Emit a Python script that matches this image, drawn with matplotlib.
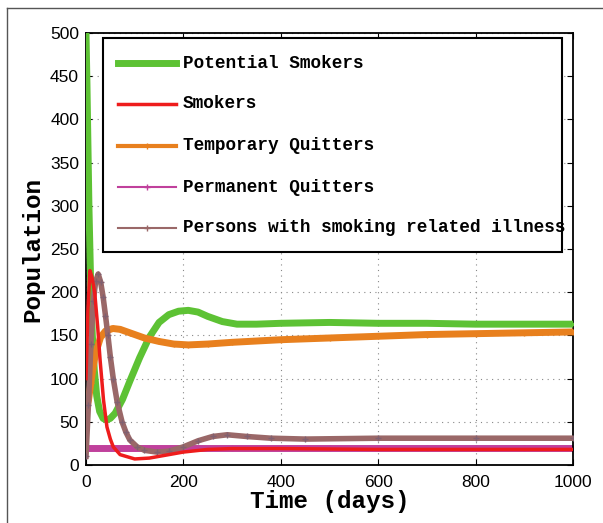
import matplotlib
matplotlib.use('Agg')
import matplotlib.pyplot as plt
from matplotlib.lines import Line2D
from matplotlib.patches import Rectangle

# time points (days) and population of each compartment
t_ps = [0, 2, 4, 6, 8, 10, 13, 17, 22, 28, 35, 42, 50, 60, 75, 90, 110, 130, 150, 170,
        190, 210, 230, 250, 280, 310, 350, 400, 500, 600, 700, 800, 900, 1000]
potential_smokers = [500, 440, 370, 300, 250, 200, 150, 110, 80, 62, 54, 52, 54, 60, 76, 97,
                     124, 148, 165, 174, 178, 179, 177, 172, 166, 163, 163, 164, 165, 164,
                     164, 163, 163, 163]

t_s = [0, 4, 8, 12, 18, 24, 29, 36, 43, 50, 56, 70, 100, 130, 160, 200, 250, 300, 400,
       600, 1000]
smokers = [100, 180, 225, 218, 199, 160, 121, 75, 44, 30, 21, 12, 7, 8, 11, 15, 18, 19, 19,
           18, 18]

t_tq = [0, 5, 10, 15, 20, 30, 40, 55, 70, 90, 120, 150, 180, 210, 250, 300, 400, 500, 600,
        700, 800, 900, 1000]
temporary_quitters = [60, 75, 95, 115, 130, 148, 155, 158, 157, 153, 147, 143, 140, 139, 140,
                      142, 145, 147, 149, 151, 152, 153, 154]

t_pq = [0, 100, 200, 300, 400, 500, 600, 700, 800, 900, 1000]
permanent_quitters = [20, 20, 20, 20, 20, 20, 20, 20, 20, 20, 20]

t_ill = [0, 5, 10, 15, 20, 25, 30, 35, 40, 45, 50, 56, 64, 74, 82, 90, 105, 120, 145, 170,
         200, 230, 260, 290, 330, 380, 450, 600, 800, 1000]
illness = [10, 70, 140, 190, 213, 221, 212, 195, 173, 150, 125, 100, 73, 50, 38, 29, 21, 17,
           15, 16, 21, 28, 33, 35, 33, 31, 30, 31, 31, 31]

labels = ['Potential Smokers', 'Smokers', 'Temporary Quitters', 'Permanent Quitters',
          'Persons with smoking related illness']
colors = ['#5dc234', '#ee1c1c', '#e8801e', '#c0409c', '#9a6868']

fig = plt.figure(figsize=(6.03, 5.23), dpi=100)
ax = fig.add_axes([86 / 603, 58 / 523, 487 / 603, 432 / 523])

ax.plot(t_ps, potential_smokers, color=colors[0], lw=5, marker='.', ms=3, zorder=3)
ax.plot(t_s, smokers, color=colors[1], lw=2.5, zorder=4)
ax.plot(t_tq, temporary_quitters, color=colors[2], lw=5, marker='+', ms=4, zorder=3)
ax.plot(t_pq, permanent_quitters, color=colors[3], lw=5, marker='+', ms=4, zorder=2)
ax.plot(t_ill, illness, color=colors[4], lw=4, marker='+', ms=5, mec='#806070', zorder=3)

ax.set_xlim(0, 1000)
ax.set_ylim(0, 500)
ax.set_xticks([0, 200, 400, 600, 800, 1000])
ax.set_yticks(range(0, 501, 50))
ax.grid(True, ls=(0, (1, 4)), color='#888888', lw=0.8)
ax.tick_params(direction='in', top=True, right=True, length=4, width=0.8,
               labelsize=12.5)
ax.tick_params(axis='x', pad=7)
ax.tick_params(axis='y', pad=5)
for lab in ax.get_xticklabels() + ax.get_yticklabels():
    lab.set_family('Liberation Sans')
for sp in ax.spines.values():
    sp.set_linewidth(1.3)

mono = {'family': 'Liberation Mono', 'weight': 'bold', 'size': 17.5}
ax.set_xlabel('Time (days)', fontdict=mono, labelpad=0)
ax.set_ylabel('Population', fontdict=mono, labelpad=4)

# legend box drawn by hand (axes coordinates), the last label runs over the frame
def axx(px):
    return (px - 86) / 487


def axy(py):
    return (465 - py) / 432


ax.add_patch(Rectangle((axx(103), axy(252)), axx(562) - axx(103), axy(38) - axy(252),
                       transform=ax.transAxes, facecolor='white', edgecolor='black',
                       lw=1.5, zorder=10))
row_y = [63, 104, 146, 187, 228]
leg_lw = [5, 2.5, 3, 1.5, 1.5]
leg_mk = ['.', None, '+', '+', '+']
for i, lab in enumerate(labels):
    y = axy(row_y[i])
    ax.add_line(Line2D([axx(118), axx(147), axx(176)], [y, y, y], color=colors[i],
                       lw=leg_lw[i], marker=leg_mk[i], ms=5, markevery=[1],
                       transform=ax.transAxes, zorder=11))
    ax.text(axx(183), y, lab, transform=ax.transAxes, va='center', ha='left',
            family='Liberation Mono', weight='bold', size=12.8, zorder=12)

# thin frame along the top and left of the figure
fig.add_artist(Line2D([7 / 603, 1], [1 - 8 / 523, 1 - 8 / 523], color='#555555', lw=1))
fig.add_artist(Line2D([7 / 603, 7 / 603], [0, 1 - 8 / 523], color='#555555', lw=1))

fig.savefig('out.png', dpi=100)
